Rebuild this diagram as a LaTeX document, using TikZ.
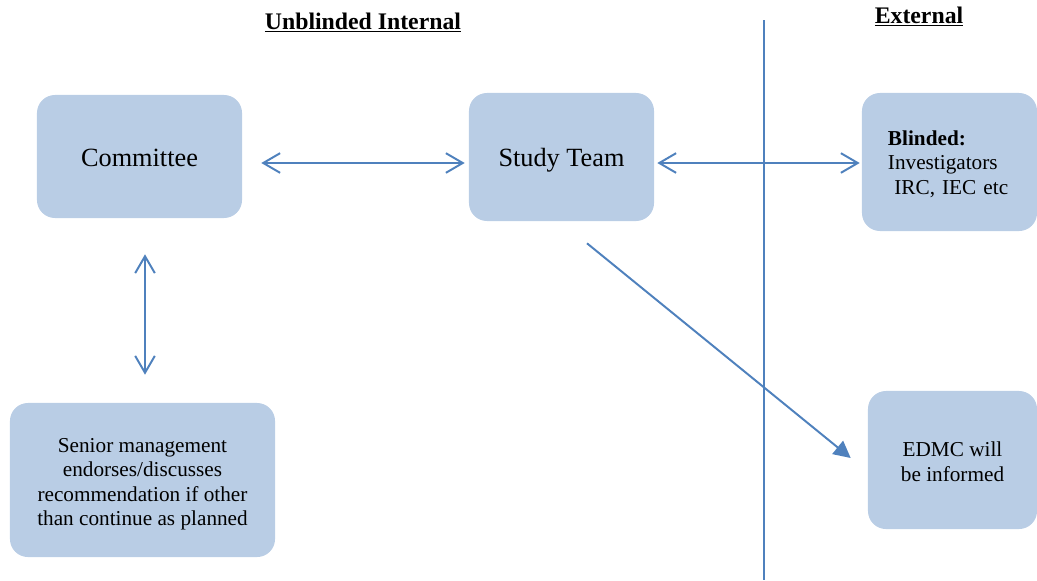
\documentclass[tikz,border=0pt]{standalone}
\usepackage{fontspec}
\setmainfont{Liberation Serif}
\usetikzlibrary{arrows.meta}
\definecolor{boxblue}{HTML}{B9CDE5}
\definecolor{lineblue}{HTML}{4F81BD}

\begin{document}
\begin{tikzpicture}[x=0.025cm,y=-0.025cm,
  box/.style={rounded corners=0.45cm,fill=boxblue,inner sep=0pt,align=center},
  bigtext/.style={font=\fontsize{18.7}{22}\selectfont},
  smalltext/.style={font=\fontsize{15.1}{17.4}\selectfont},
  heading/.style={font=\fontsize{16.9}{20}\selectfont\bfseries,anchor=base},
  dblarrow/.style={draw=lineblue,line width=1.4pt,{Straight Barb[length=12pt,width=14pt]}-{Straight Barb[length=12pt,width=14pt]}},
  onearrow/.style={draw=lineblue,line width=1.4pt,-{Triangle[length=12pt,width=12pt]}}]
\useasboundingbox (0,0) rectangle (1037,580);

\node[heading] (internal) at (363,29) {\underline{Unblinded Internal}};
\node[heading] (external) at (919,23) {\underline{External}};

\coordinate (divtop) at (764,20);
\coordinate (divbottom) at (764,580);
\draw[lineblue,line width=1.1pt] (divtop) -- (divbottom);

\node[box,bigtext,minimum width=5.125cm,minimum height=3.075cm,text height=14.1pt] (committee) at (139.5,156.5) {Committee};
\node[box,bigtext,minimum width=4.625cm,minimum height=3.2cm,text height=16.9pt] (team) at (561.5,157) {Study Team};
\node[box,smalltext,minimum width=4.375cm,minimum height=3.45cm,text width=3.075cm,align=left,text height=13.1pt] (blinded) at (949.5,162) {\textbf{Blinded:}\\Investigators\\\hspace*{0.3em}IRC, IEC etc};
\node[box,smalltext,minimum width=4.225cm,minimum height=3.45cm,text height=30.1pt] (edmc) at (952.5,460) {EDMC will\\be informed};
\node[box,smalltext,minimum width=6.625cm,minimum height=3.85cm,text height=68.3pt] (senior) at (142.5,480) {Senior management\\endorses/discusses\\recommendation if other\\than continue as planned};

\draw[dblarrow] ([shift={(19,6.5)}]committee.east) -- ([shift={(-4,6)}]team.west);
\draw[dblarrow] ([shift={(3,6)}]team.east) -- ([shift={(-2,1)}]blinded.west);
\draw[dblarrow] ([shift={(5.5,36)}]committee.south) -- ([shift={(2.5,-28)}]senior.north);
\draw[onearrow] ([shift={(25.5,22)}]team.south) -- ([shift={(-17,-2)}]edmc.west);
\end{tikzpicture}
\end{document}
